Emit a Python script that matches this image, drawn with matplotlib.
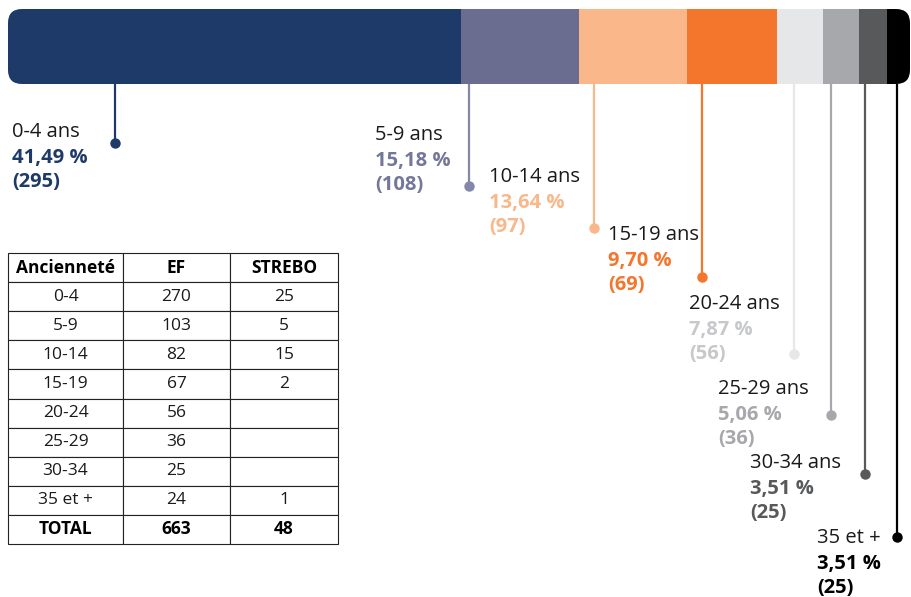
import matplotlib
matplotlib.use("Agg")
import matplotlib.pyplot as plt
from matplotlib.patches import FancyBboxPatch
from matplotlib import transforms

# ---------------- data ----------------
categories = ["0-4", "5-9", "10-14", "15-19", "20-24", "25-29", "30-34", "35 et +"]
label_names = ["0-4 ans", "5-9 ans", "10-14 ans", "15-19 ans", "20-24 ans",
               "25-29 ans", "30-34 ans", "35 et +"]
ef = [270, 103, 82, 67, 56, 36, 25, 24]
strebo = [25, 5, 15, 2, None, None, None, 1]
pct = [41.49, 15.18, 13.64, 9.70, 7.87, 5.06, 3.51, 3.51]
counts = [295, 108, 97, 69, 56, 36, 25, 25]
# segment widths of the bar as drawn in the reference (share of the bar, %)
bar_share = [50.2, 13.1, 12.0, 10.0, 5.1, 4.0, 3.1, 2.5]

# ---------------- style ----------------
bar_colors = ["#1e3a68", "#6a6d8f", "#f9b78a", "#f4762d", "#e6e7e9", "#a7a8ab", "#58595b", "#000000"]
line_colors = ["#1e3a68", "#8587a8", "#f9b78a", "#f4762d", "#e6e7e9", "#a7a8ab", "#58595b", "#000000"]
text_colors = ["#1e3a68", "#75779a", "#f9b78a", "#f4762d", "#c7c8ca", "#a7a8ab", "#58595b", "#000000"]
FONT = ["Open Sans", "DejaVu Sans"]
plt.rcParams["font.family"] = FONT

W, H = 911, 597
fig = plt.figure(figsize=(W / 100, H / 100), dpi=100)
ax = fig.add_axes([0, 0, 1, 1])
ax.set_xlim(0, W)
ax.set_ylim(H, 0)
ax.axis("off")

# bar geometry (pixels)
bx0, bx1, by0, by1 = 8, 910, 9, 84
bar_ax = fig.add_axes([bx0 / W, 1 - by1 / H, (bx1 - bx0) / W, (by1 - by0) / H])
bar_ax.set_xlim(0, sum(bar_share))
bar_ax.set_ylim(0, 1)
bar_ax.axis("off")

clip = FancyBboxPatch((bx0, by0), bx1 - bx0, by1 - by0,
                      boxstyle="round,pad=0,rounding_size=14",
                      transform=ax.transData, facecolor="none", edgecolor="none")
ax.add_patch(clip)

lefts = []
acc = 0
for v in bar_share:
    lefts.append(acc)
    acc += v
bars = bar_ax.barh([0.5], bar_share, left=lefts, height=1.0, color=bar_colors, linewidth=0)
for b in bars:
    b.set_clip_path(clip)

# leaders: x in bar data coords (segment start) + pixel offset; y in pixels
leader_off_px = [107, 8, 15, 15, 17, 8, 6, 10]
dot_y = [143, 186, 228, 277, 354, 415, 474, 537]
blend = transforms.blended_transform_factory(bar_ax.transData, ax.transData)
for i in range(len(categories)):
    tr = transforms.offset_copy(blend, fig=fig, x=leader_off_px[i] * 72 / 100, y=0, units="points")
    ax.plot([lefts[i], lefts[i]], [by1, dot_y[i]], color=line_colors[i], lw=1.6,
            transform=tr, solid_capstyle="butt", zorder=3)
    ax.plot([lefts[i]], [dot_y[i]], marker="o", ms=7.5, color=line_colors[i],
            mec="none", transform=tr, zorder=4)

# labels
label_x = [12, 375, 489, 608, 689, 718, 750, 817]
label_base = [137, 140, 182, 240, 309, 394, 468, 543]
fs = 14.5
for i in range(len(categories)):
    x, y = label_x[i], label_base[i]
    ax.text(x, y, label_names[i], fontsize=fs, color="#1a1a1a", va="baseline", ha="left")
    ax.text(x, y + 26, f"{pct[i]:.2f}".replace(".", ",") + " %", fontsize=fs,
            fontweight="bold", color=text_colors[i], va="baseline", ha="left")
    ax.text(x, y + 50, f"({counts[i]})", fontsize=fs, fontweight="bold",
            color=text_colors[i], va="baseline", ha="left")

# table
header = ["Ancienneté", "EF", "STREBO"]
rows = [[c, str(e), "" if s is None else str(s)] for c, e, s in zip(categories, ef, strebo)]
rows.append(["TOTAL", str(sum(ef)), str(sum(s for s in strebo if s))])
tx0, tx1, ty0, ty1 = 8, 338, 253, 544
col_w = [115, 107, 108]
tbl = ax.table(cellText=rows, colLabels=header, cellLoc="center",
               colWidths=[w / sum(col_w) for w in col_w],
               bbox=[tx0 / W, 1 - ty1 / H, (tx1 - tx0) / W, (ty1 - ty0) / H])
tbl.auto_set_font_size(False)
tbl.set_fontsize(12.5)
nrows = len(rows) + 1
for (r, c), cell in tbl.get_celld().items():
    cell.set_edgecolor("#222222")
    cell.set_linewidth(0.8)
    cell.set_facecolor("white")
    txt = cell.get_text()
    txt.set_fontfamily(FONT)
    txt.set_color("#1a1a1a")
    if r == 0 or r == nrows - 1:
        txt.set_fontweight("bold")
        txt.set_color("#000000")

fig.savefig("out.png", dpi=100)
